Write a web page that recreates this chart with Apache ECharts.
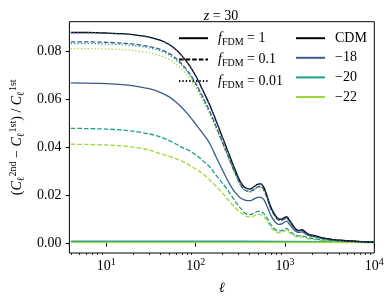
<!DOCTYPE html>
<html><head><meta charset="utf-8">
<script src="https://cdn.jsdelivr.net/npm/echarts@6/dist/echarts.min.js"></script>
<style>html,body{margin:0;padding:0;background:#fff}#c{width:390px;height:300px}</style>
</head><body><div id="c"></div>
<script>
// multipole grid (shared)
const ell = [4, 6, 8, 10, 15, 20, 30, 40, 50, 60, 70, 85, 100, 115, 130, 145, 170, 200, 235, 275, 315, 350, 380, 410, 450, 500, 540, 580, 620, 670, 720, 780, 850, 920, 980, 1040, 1100, 1180, 1270, 1360, 1450, 1550, 1650, 1780, 1900, 2050, 2200, 2500, 3000, 3500, 4500, 6000, 8000, 10000];
// CDM
const cdm = [0.0877,0.0877,0.0876,0.0875,0.0872,0.0868,0.0858,0.0845,0.0828,0.0806, 0.0781,0.0740,0.0697,0.0652,0.0610,0.0572,0.0508,0.0440,0.0373,0.0308, 0.0258,0.0234,0.0227,0.0226,0.0235,0.0246,0.0247,0.0232,0.0205,0.0166, 0.0138,0.0116,0.0101,0.0100,0.0106,0.0110,0.0101,0.0084,0.0066,0.0056, 0.0053,0.0056,0.0050,0.0040,0.0035,0.0033,0.0030,0.0024,0.0019,0.0015, 0.0011,0.0008,0.0005,0.0004];
// f_FDM = 1
const f1m18 = [0.0667,0.0666,0.0665,0.0664,0.0660,0.0655,0.0643,0.0628,0.0610,0.0588, 0.0565,0.0530,0.0496,0.0466,0.0440,0.0412,0.0358,0.0304,0.0253,0.0212, 0.0189,0.0180,0.0177,0.0177,0.0184,0.0191,0.0191,0.0181,0.0160,0.0129, 0.0105,0.0087,0.0078,0.0080,0.0087,0.0092,0.0083,0.0068,0.0055,0.0047, 0.0045,0.0047,0.0042,0.0034,0.0030,0.0028,0.0026,0.0021,0.0017,0.0013, 0.0010,0.0007,0.0005,0.0004];
const ellFlat = [4, 30, 300, 3000, 10000];
const f1m20 = [0.0008, 0.0008, 0.0008, 0.0006, 0.0004];
const f1m22 = [0.0003, 0.0003, 0.0003, 0.0003, 0.0002];
// f_FDM = 0.1
const f01m18 = [0.0838,0.0838,0.0837,0.0836,0.0833,0.0829,0.0819,0.0807,0.0791,0.0770, 0.0746,0.0707,0.0666,0.0623,0.0583,0.0546,0.0485,0.0420,0.0356,0.0294, 0.0246,0.0223,0.0217,0.0216,0.0224,0.0235,0.0236,0.0222,0.0196,0.0159, 0.0132,0.0111,0.0096,0.0096,0.0101,0.0105,0.0096,0.0080,0.0063,0.0053, 0.0051,0.0053,0.0048,0.0038,0.0033,0.0032,0.0029,0.0023,0.0018,0.0014, 0.0011,0.0008,0.0005,0.0004];
const f01m20 = [0.0478,0.0477,0.0476,0.0475,0.0471,0.0466,0.0455,0.0442,0.0428,0.0413, 0.0399,0.0385,0.0368,0.0350,0.0333,0.0316,0.0282,0.0249,0.0215,0.0176, 0.0147,0.0128,0.0120,0.0119,0.0126,0.0132,0.0131,0.0123,0.0108,0.0087, 0.0070,0.0058,0.0051,0.0052,0.0057,0.0061,0.0055,0.0044,0.0036,0.0031, 0.0030,0.0031,0.0028,0.0023,0.0021,0.0020,0.0018,0.0015,0.0012,0.0010, 0.0008,0.0006,0.0004,0.0003];
const f01m22 = [0.0412,0.0411,0.0410,0.0409,0.0405,0.0400,0.0388,0.0373,0.0362,0.0352, 0.0342,0.0325,0.0309,0.0294,0.0279,0.0262,0.0236,0.0208,0.0177,0.0149, 0.0129,0.0117,0.0110,0.0108,0.0114,0.0120,0.0119,0.0111,0.0096,0.0077, 0.0060,0.0049,0.0043,0.0044,0.0050,0.0054,0.0047,0.0037,0.0030,0.0026, 0.0025,0.0026,0.0023,0.0019,0.0017,0.0016,0.0015,0.0012,0.0010,0.0008, 0.0006,0.0005,0.0003,0.0002];
// f_FDM = 0.01
const f001m18 = [0.0876,0.0876,0.0875,0.0874,0.0871,0.0867,0.0857,0.0844,0.0827,0.0805, 0.0780,0.0739,0.0696,0.0651,0.0609,0.0571,0.0507,0.0439,0.0372,0.0307, 0.0257,0.0233,0.0226,0.0225,0.0234,0.0245,0.0246,0.0231,0.0204,0.0165, 0.0137,0.0115,0.0100,0.0099,0.0105,0.0109,0.0100,0.0083,0.0065,0.0055, 0.0052,0.0055,0.0049,0.0039,0.0034,0.0032,0.0029,0.0023,0.0018,0.0014, 0.0010,0.0007,0.0005,0.0004];
const f001m20 = [0.0831,0.0831,0.0830,0.0829,0.0827,0.0823,0.0813,0.0801,0.0785,0.0764, 0.0740,0.0702,0.0661,0.0618,0.0578,0.0542,0.0482,0.0417,0.0354,0.0292, 0.0245,0.0222,0.0215,0.0214,0.0223,0.0233,0.0234,0.0220,0.0194,0.0157, 0.0131,0.0110,0.0096,0.0095,0.0100,0.0104,0.0096,0.0080,0.0063,0.0053, 0.0050,0.0053,0.0047,0.0038,0.0033,0.0031,0.0028,0.0023,0.0018,0.0014, 0.0010,0.0008,0.0005,0.0004];
const f001m22 = [0.0810,0.0810,0.0809,0.0808,0.0806,0.0802,0.0793,0.0781,0.0766,0.0746, 0.0724,0.0686,0.0648,0.0607,0.0569,0.0534,0.0476,0.0414,0.0352,0.0291, 0.0244,0.0221,0.0215,0.0214,0.0222,0.0233,0.0234,0.0219,0.0194,0.0157, 0.0130,0.0110,0.0095,0.0094,0.0100,0.0103,0.0095,0.0079,0.0062,0.0053, 0.0050,0.0053,0.0047,0.0038,0.0033,0.0031,0.0028,0.0023,0.0018,0.0014, 0.0010,0.0008,0.0005,0.0004];
// ticks
const yTicks = [0, 0.02, 0.04, 0.06, 0.08];
const xMajor = [10, 100, 1000, 10000];
const xMinor = [4,5,6,7,8,9,20,30,40,50,60,70,80,90,200,300,400,500,600,700,800,900,2000,3000,4000,5000,6000,7000,8000,9000];

const FONT = "'Liberation Serif','DejaVu Serif',serif";
const FS = 14;
const rich = {
  n: {fontFamily: FONT, fontSize: FS, lineHeight: 18, fontWeight: 'normal', color: '#000'},
  i: {fontFamily: FONT, fontSize: FS, lineHeight: 18, fontWeight: 'normal', fontStyle: 'italic', color: '#000'},
  sub: {fontFamily: FONT, fontSize: 10, lineHeight: 9, fontWeight: 'normal', verticalAlign: 'bottom', color: '#000'},
  sup: {fontFamily: FONT, fontSize: 10, lineHeight: 9, fontWeight: 'normal', verticalAlign: 'top', color: '#000'}
};
const C18 = '#3b5b8f', C20 = '#1f9e89', C22 = '#a0da39';
const DASH = [4.6, 2], DOT = [1.3, 2.1];
const pairs = (xs, ys) => xs.map((x, i) => [x, ys[i]]);
function line(name, xs, ys, color, type, z) {
  return {name, type: 'line', data: pairs(xs, ys), symbol: 'none', smooth: 0.3,
    lineStyle: {color, width: 1.3, type}, itemStyle: {color}, z, silent: true};
}
function dummy(name, color, type) {
  return {name, type: 'line', data: [], symbol: 'none', lineStyle: {color, width: 1.4, type}, itemStyle: {color}};
}
const legendNames = {f1: '{i|f}{sub|FDM}{n| = 1}', f01: '{i|f}{sub|FDM}{n| = 0.1}', f001: '{i|f}{sub|FDM}{n| = 0.01}',
  CDM: '{n|CDM}', m18: '{n|\u221218}', m20: '{n|\u221220}', m22: '{n|\u221222}'};
const legendBase = {orient: 'vertical', top: 31, padding: 0, itemWidth: 29, itemHeight: 18, itemGap: 5.2,
  selectedMode: false, formatter: n => legendNames[n], itemStyle: {opacity: 0, borderWidth: 0},
  textStyle: {rich, padding: [0, 0, 0, 5]}};

const chart = echarts.init(document.getElementById('c'), null, {renderer: 'canvas'});
chart.setOption({
  animation: false,
  backgroundColor: '#fff',
  title: {text: '{i|z}{n| = 30}', left: 216, textAlign: 'center', top: 2, textStyle: {fontWeight: 'normal', fontSize: FS, rich}},
  grid: {left: 57.3, right: 15.7, top: 21.7, bottom: 42.3, show: true, borderColor: '#000', borderWidth: 1, backgroundColor: 'transparent'},
  legend: [
    Object.assign({}, legendBase, {data: ['f1', 'f01', 'f001'], left: 178}),
    Object.assign({}, legendBase, {data: ['CDM', 'm18', 'm20', 'm22'], left: 295})
  ],
  xAxis: [
    {type: 'log', logBase: 10, min: 3.86, max: 10000,
     name: '{i|\u2113}', nameLocation: 'middle', nameGap: 26, nameTextStyle: {rich},
     axisLine: {show: false}, splitLine: {show: false},
     axisTick: {show: true, length: 3.5, lineStyle: {color: '#000', width: 1}, customValues: xMajor},
     axisLabel: {show: true, margin: 4, customValues: xMajor, rich,
       formatter: v => '{n|10}{sup|' + Math.round(Math.log10(v)) + '}'}},
    {type: 'log', logBase: 10, min: 3.86, max: 10000, position: 'bottom', offset: 0,
     axisLine: {show: false}, splitLine: {show: false},
     axisTick: {show: true, length: 2, lineStyle: {color: '#000', width: 0.8}, customValues: xMinor},
     axisLabel: {show: false}}
  ],
  yAxis: {type: 'value', min: -0.0041, max: 0.0922,
    name: '{n|(}{i|C}{sub|\u2113}{sup|2nd}{n| \u2212 }{i|C}{sub|\u2113}{sup|1st}{n|) / }{i|C}{sub|\u2113}{sup|1st}',
    nameLocation: 'middle', nameRotate: 90, nameGap: 40, nameTextStyle: {rich},
    axisLine: {show: false}, splitLine: {show: false},
    axisTick: {show: true, length: 3.5, lineStyle: {color: '#000', width: 1}, customValues: yTicks},
    axisLabel: {margin: 8, customValues: yTicks, fontFamily: FONT, fontSize: FS, color: '#000', formatter: v => v.toFixed(2)}},
  series: [
    line('f1m20', ellFlat, f1m20, C20, 'solid', 2),
    line('f1m22', ellFlat, f1m22, C22, 'solid', 2),
    line('f01m22', ell, f01m22, C22, DASH, 2),
    line('f01m20', ell, f01m20, C20, DASH, 2),
    line('f1m18', ell, f1m18, C18, 'solid', 2),
    line('f001m22', ell, f001m22, C22, DOT, 2),
    line('f001m20', ell, f001m20, C20, DOT, 2),
    line('f01m18', ell, f01m18, C18, DASH, 2),
    line('cdm', ell, cdm, '#000', 'solid', 2),
    line('f001m18', ell, f001m18, C18, DOT, 2),
    dummy('f1', '#000', 'solid'), dummy('f01', '#000', DASH), dummy('f001', '#000', DOT),
    dummy('CDM', '#000', 'solid'), dummy('m18', C18, 'solid'), dummy('m20', C20, 'solid'), dummy('m22', C22, 'solid')
  ]
});
</script></body></html>
